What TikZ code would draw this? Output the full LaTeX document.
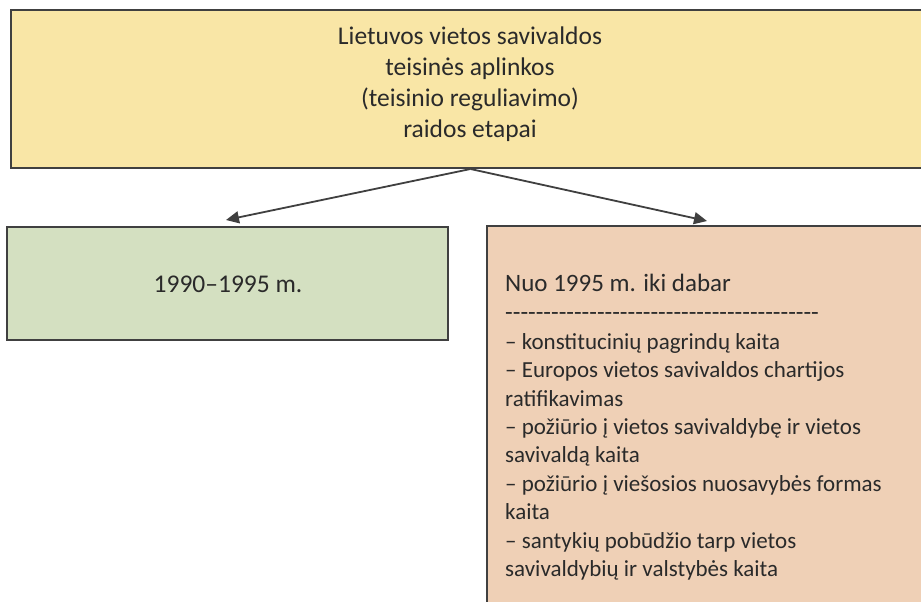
\documentclass[tikz,border=0pt]{standalone}
\usepackage{fontspec}
\setmainfont{Carlito}
\usetikzlibrary{arrows.meta}
\definecolor{ybox}{HTML}{F9E6A6}
\definecolor{gbox}{HTML}{D4E0C1}
\definecolor{pbox}{HTML}{EFD0B6}
\definecolor{edge}{HTML}{404040}
\definecolor{txt}{HTML}{2A2A2A}
\newcommand{\hyline}{\foreach \i in {1,...,41}{\mbox{-}}}
\newcommand{\bigline}{\fontsize{25}{28.4}\selectfont}
\begin{document}
\begin{tikzpicture}[x=1pt,y=-1pt,
  box/.style={draw=edge, line width=2pt, rectangle, inner sep=0pt},
  label/.style={text=txt, font=\fontsize{25.5}{31}\selectfont, inner sep=0pt},
  arr/.style={draw=edge, line width=1.8pt, -{Triangle[length=13pt,width=12pt]}}]
\clip (0,0) rectangle (921,602);
\fill[white] (0,0) rectangle (921,602);
\node[box, fill=ybox, minimum width=919pt, minimum height=158pt] (top) at (470.5,89) {};
\node[box, fill=gbox, minimum width=441pt, minimum height=113pt] (left) at (227.5,283.5) {};
\node[box, fill=pbox, minimum width=445pt, minimum height=400pt] (right) at (709.5,426) {};
\node[label, align=center] (toptext) at (470,84.5) {Lietuvos vietos savivaldos\\teisinės aplinkos\\(teisinio reguliavimo)\\raidos etapai};
\node[label] (lefttext) at (228,284) {1990–1995 m.};
\node[label, align=left, anchor=north west, font=\fontsize{23}{28.4}\selectfont] (righttext) at (505,274) {\bigline Nuo 1995 m. iki dabar\\[1pt]
\bigline\hyline\\
– konstitucinių pagrindų kaita\\
– Europos vietos savivaldos chartijos\\
ratifikavimas\\
– požiūrio į vietos savivaldybę ir vietos\\
savivaldą kaita\\
– požiūrio į viešosios nuosavybės formas\\
kaita\\
– santykių pobūdžio tarp vietos\\
savivaldybių ir valstybės kaita};
\coordinate (lefttip) at (226,220);
\coordinate (righttip) at (707,221);
\draw[arr] (top.south) -- (lefttip);
\draw[arr] (top.south) -- (righttip);
\end{tikzpicture}
\end{document}
